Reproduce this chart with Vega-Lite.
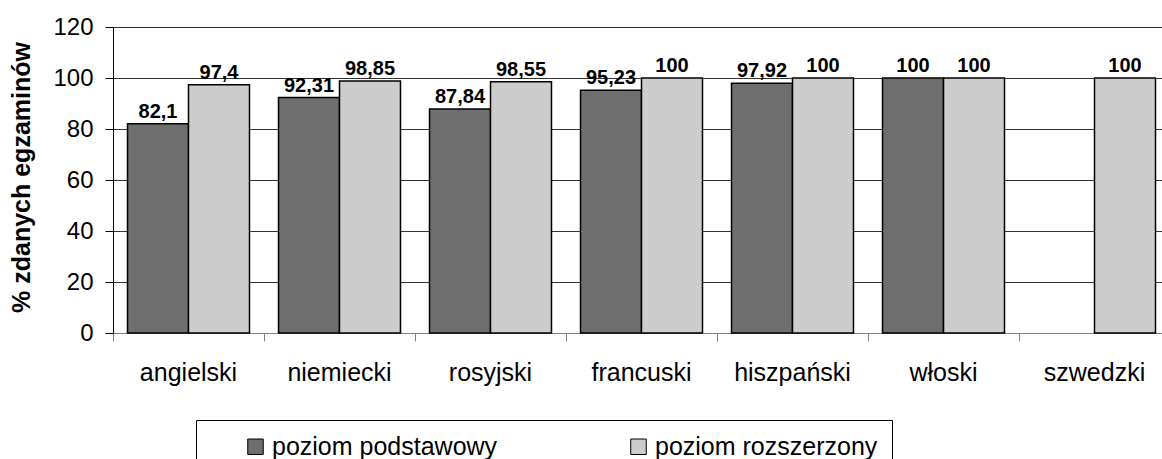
{
  "$schema": "https://vega.github.io/schema/vega-lite/v6.json",
  "width": 1049,
  "height": 306,
  "autosize": {"type": "none"},
  "padding": {"left": 113, "top": 27, "right": 0, "bottom": 126},
  "background": "white",
  "config": {"view": {"stroke": null}, "font": "Liberation Sans"},
  "data": {
    "values": [
      {"jezyk": "angielski", "poziom": "poziom podstawowy", "wynik": 82.1, "etykieta": "82,1"},
      {"jezyk": "angielski", "poziom": "poziom rozszerzony", "wynik": 97.4, "etykieta": "97,4"},
      {"jezyk": "niemiecki", "poziom": "poziom podstawowy", "wynik": 92.31, "etykieta": "92,31"},
      {"jezyk": "niemiecki", "poziom": "poziom rozszerzony", "wynik": 98.85, "etykieta": "98,85"},
      {"jezyk": "rosyjski", "poziom": "poziom podstawowy", "wynik": 87.84, "etykieta": "87,84"},
      {"jezyk": "rosyjski", "poziom": "poziom rozszerzony", "wynik": 98.55, "etykieta": "98,55"},
      {"jezyk": "francuski", "poziom": "poziom podstawowy", "wynik": 95.23, "etykieta": "95,23"},
      {"jezyk": "francuski", "poziom": "poziom rozszerzony", "wynik": 100, "etykieta": "100"},
      {"jezyk": "hiszpański", "poziom": "poziom podstawowy", "wynik": 97.92, "etykieta": "97,92"},
      {"jezyk": "hiszpański", "poziom": "poziom rozszerzony", "wynik": 100, "etykieta": "100"},
      {"jezyk": "włoski", "poziom": "poziom podstawowy", "wynik": 100, "etykieta": "100"},
      {"jezyk": "włoski", "poziom": "poziom rozszerzony", "wynik": 100, "etykieta": "100"},
      {"jezyk": "szwedzki", "poziom": "poziom rozszerzony", "wynik": 100, "etykieta": "100"}
    ]
  },
  "encoding": {
    "x": {
      "field": "jezyk",
      "type": "nominal",
      "sort": ["angielski", "niemiecki", "rosyjski", "francuski", "hiszpański", "włoski", "szwedzki"],
      "scale": {"range": [0, 1057], "paddingInner": 0, "paddingOuter": 0},
      "axis": {
        "title": null,
        "bandPosition": 0,
        "labelAngle": 0,
        "labelFontSize": 25,
        "labelColor": "black",
        "labelPadding": 19,
        "tickSize": 8,
        "tickColor": "#808080",
        "tickWidth": 1,
        "domainColor": "#808080",
        "domainWidth": 1,
        "grid": false
      }
    },
    "xOffset": {
      "field": "poziom",
      "type": "nominal",
      "sort": ["poziom podstawowy", "poziom rozszerzony"],
      "scale": {"paddingInner": 0, "paddingOuter": 0.238}
    },
    "y": {
      "field": "wynik",
      "type": "quantitative",
      "scale": {"domain": [0, 120], "nice": false},
      "axis": {
        "values": [0, 20, 40, 60, 80, 100, 120],
        "title": "% zdanych egzaminów",
        "titleFontSize": 25,
        "titleFontWeight": "bold",
        "titleColor": "black",
        "titleX": -84,
        "titleY": 150,
        "titleAngle": -90,
        "titleAlign": "center",
        "titleBaseline": "alphabetic",
        "labelFontSize": 24,
        "labelColor": "black",
        "labelPadding": 12,
        "tickSize": 8,
        "tickColor": "black",
        "domainColor": "black",
        "gridColor": "#333333",
        "gridWidth": 1
      }
    }
  },
  "layer": [
    {
      "mark": {"type": "bar", "stroke": "black", "strokeWidth": 1.5},
      "encoding": {
        "color": {
          "field": "poziom",
          "type": "nominal",
          "scale": {"domain": ["poziom podstawowy", "poziom rozszerzony"], "range": ["#6e6e6e", "#cdcdcd"]},
          "legend": {
            "title": null,
            "orient": "none",
            "legendX": 83,
            "legendY": 393,
            "direction": "horizontal",
            "symbolType": "square",
            "symbolSize": 240,
            "symbolStrokeColor": "black",
            "symbolStrokeWidth": 1,
            "symbolOpacity": 1,
            "symbolOffset": 33,
            "labelFontSize": 25,
            "labelColor": "black",
            "labelOffset": 4,
            "labelLimit": 400,
            "columnPadding": 95,
            "padding": 14,
            "strokeColor": "black",
            "fillColor": "white"
          }
        }
      }
    },
    {
      "mark": {"type": "text", "fontSize": 20, "fontWeight": "bold", "color": "black", "baseline": "alphabetic", "dy": -6},
      "encoding": {"text": {"field": "etykieta"}}
    }
  ]
}
